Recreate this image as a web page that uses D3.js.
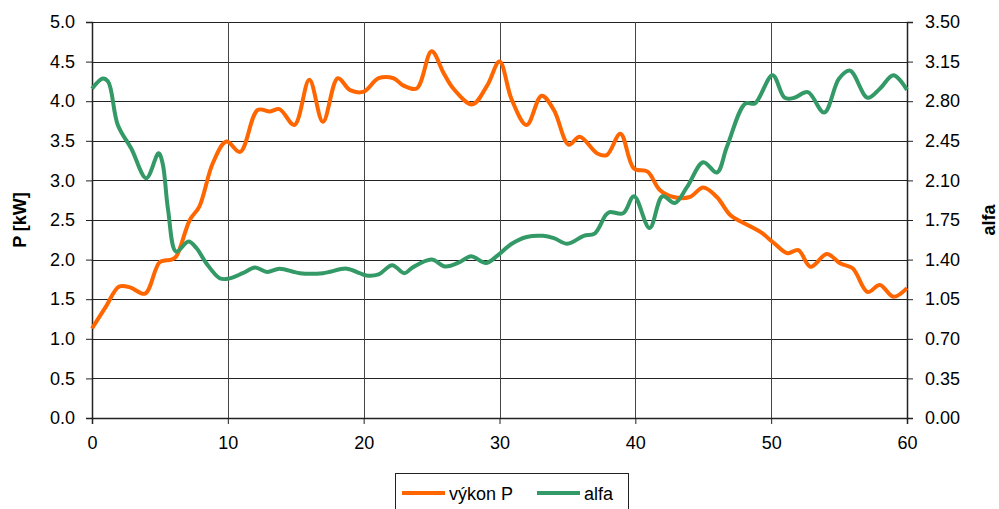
<!DOCTYPE html>
<html>
<head>
<meta charset="utf-8">
<script src="https://cdn.jsdelivr.net/npm/d3@7"></script>
<style>
  body { margin: 0; background: #fff; }
  text { font-family: "Liberation Sans", Arial, sans-serif; }
</style>
</head>
<body>
<div id="chart"></div>
<script>
'use strict';

// Data
var pTime = [0, 1, 2, 2.8, 3.9, 5, 5.85, 6.2, 7.2, 7.9, 8.9, 9.9, 10.9, 12.2, 13.1, 13.8, 14.9, 16, 17, 18.1, 19, 20, 21.1, 22.2, 22.9, 23.9, 25, 25.9, 26.6, 28, 29.1, 30, 30.9, 32, 33.1, 34, 35.1, 35.9, 37.2, 37.9, 38.9, 39.9, 40.9, 41.8, 42.8, 44, 45, 46, 47, 48, 49.2, 50.2, 51.2, 52, 52.9, 54.1, 55.1, 56, 57.1, 58, 59, 60];
var pValues = [1.13, 1.4, 1.66, 1.65, 1.57, 1.97, 2.0, 2.04, 2.5, 2.67, 3.22, 3.49, 3.36, 3.89, 3.87, 3.9, 3.7, 4.27, 3.74, 4.29, 4.14, 4.12, 4.29, 4.29, 4.2, 4.16, 4.63, 4.35, 4.16, 3.96, 4.2, 4.5, 4.02, 3.7, 4.07, 3.89, 3.45, 3.55, 3.34, 3.32, 3.59, 3.15, 3.11, 2.88, 2.79, 2.79, 2.91, 2.79, 2.56, 2.46, 2.35, 2.21, 2.08, 2.12, 1.91, 2.07, 1.95, 1.89, 1.59, 1.68, 1.53, 1.64];

var alfaTime = [0, 0.8, 1.2, 1.9, 2.9, 4, 4.9, 5.2, 5.6, 6.2, 7.1, 7.7, 8.4, 9.4, 10, 11.1, 12, 12.9, 13.8, 15.3, 17, 18.75, 19.7, 20.2, 21.1, 22.1, 23, 23.6, 25, 26, 27.1, 27.9, 29, 29.8, 30.9, 32, 33.2, 34, 35, 36.2, 37, 37.8, 38.1, 39.1, 39.9, 41.05, 42, 42.9, 43.8, 45, 46, 46.75, 48.1, 48.8, 50.1, 51, 51.7, 52.7, 53.9, 55, 55.8, 57.1, 58, 59, 60];
var alfaValues = [2.91, 3.0, 2.97, 2.59, 2.38, 2.12, 2.34, 2.25, 1.84, 1.47, 1.56, 1.5, 1.37, 1.235, 1.23, 1.28, 1.33, 1.29, 1.32, 1.28, 1.28, 1.32, 1.28, 1.26, 1.27, 1.35, 1.28, 1.33, 1.4, 1.34, 1.38, 1.43, 1.37, 1.43, 1.54, 1.6, 1.61, 1.59, 1.54, 1.61, 1.63, 1.79, 1.82, 1.81, 1.96, 1.68, 1.96, 1.9, 2.04, 2.26, 2.17, 2.4, 2.78, 2.78, 3.03, 2.83, 2.83, 2.88, 2.7, 3.0, 3.07, 2.83, 2.91, 3.03, 2.9];

var xTicks = [0, 10, 20, 30, 40, 50, 60];
var leftTicks = [0, 0.5, 1, 1.5, 2, 2.5, 3, 3.5, 4, 4.5, 5];
var rightTicks = [0, 0.35, 0.7, 1.05, 1.4, 1.75, 2.1, 2.45, 2.8, 3.15, 3.5];

var seriesNames = ['výkon P', 'alfa'];
var seriesColors = ['#ff6600', '#339966'];

// Layout
var width = 999, height = 509;
var margin = {top: 22, right: 92, bottom: 91, left: 92};
var plotW = width - margin.left - margin.right;
var plotH = height - margin.top - margin.bottom;

var x = d3.scaleLinear().domain([0, 60]).range([0, plotW]);
var yLeft = d3.scaleLinear().domain([0, 5]).range([plotH, 0]);
var yRight = d3.scaleLinear().domain([0, 3.5]).range([plotH, 0]);

var svg = d3.select('#chart').append('svg')
  .attr('width', width)
  .attr('height', height);

var g = svg.append('g')
  .attr('transform', 'translate(' + margin.left + ',' + margin.top + ')');

// Grid
g.append('g').selectAll('line')
  .data(leftTicks)
  .enter().append('line')
  .attr('x1', 0).attr('x2', plotW)
  .attr('y1', function(d) { return Math.round(yLeft(d)) + 0.5; })
  .attr('y2', function(d) { return Math.round(yLeft(d)) + 0.5; })
  .attr('stroke', '#222')
  .attr('stroke-width', 1);

g.append('g').selectAll('line')
  .data(xTicks)
  .enter().append('line')
  .attr('x1', function(d) { return Math.round(x(d)) + 0.5; })
  .attr('x2', function(d) { return Math.round(x(d)) + 0.5; })
  .attr('y1', 0).attr('y2', plotH)
  .attr('stroke', '#444')
  .attr('stroke-width', 1);

// Axes
var xAxis = d3.axisBottom(x).tickValues(xTicks).tickSize(6).tickPadding(12)
  .tickFormat(d3.format('d'));
var leftAxis = d3.axisLeft(yLeft).tickValues(leftTicks).tickSize(6).tickPadding(11)
  .tickFormat(d3.format('.1f'));
var rightAxis = d3.axisRight(yRight).tickValues(rightTicks).tickSize(6).tickPadding(12)
  .tickFormat(d3.format('.2f'));

function styleAxis(sel) {
  sel.selectAll('.domain').attr('stroke', '#222').attr('stroke-width', 1.5);
  sel.selectAll('.tick line').attr('stroke', '#222');
  sel.selectAll('.tick text')
    .attr('fill', '#000')
    .style('font-size', '18px')
    .style('font-family', '"Liberation Sans", Arial, sans-serif');
}

g.append('g')
  .attr('transform', 'translate(0,' + plotH + ')')
  .call(xAxis)
  .call(styleAxis);

g.append('g')
  .call(leftAxis)
  .call(styleAxis);

g.append('g')
  .attr('transform', 'translate(' + plotW + ',0)')
  .call(rightAxis)
  .call(styleAxis);

// Lines
var pLine = d3.line()
  .x(function(d, i) { return x(pTime[i]); })
  .y(function(d) { return yLeft(d); })
  .curve(d3.curveCatmullRom.alpha(0.5));

var alfaLine = d3.line()
  .x(function(d, i) { return x(alfaTime[i]); })
  .y(function(d) { return yRight(d); })
  .curve(d3.curveCatmullRom.alpha(0.5));

g.append('path')
  .attr('d', pLine(pValues))
  .attr('fill', 'none')
  .attr('stroke', seriesColors[0])
  .attr('stroke-width', 4)
  .attr('stroke-linejoin', 'round');

g.append('path')
  .attr('d', alfaLine(alfaValues))
  .attr('fill', 'none')
  .attr('stroke', seriesColors[1])
  .attr('stroke-width', 4)
  .attr('stroke-linejoin', 'round');

// Axis titles
svg.append('text')
  .attr('transform', 'translate(26,' + (margin.top + plotH / 2) + ') rotate(-90)')
  .attr('text-anchor', 'middle')
  .style('font-size', '18px')
  .style('font-weight', 'bold')
  .text('P [kW]');

svg.append('text')
  .attr('transform', 'translate(995,' + (margin.top + plotH / 2) + ') rotate(-90)')
  .attr('text-anchor', 'middle')
  .style('font-size', '18px')
  .style('font-weight', 'bold')
  .text('alfa');

// Legend
var legend = svg.append('g').attr('transform', 'translate(395,473)');
legend.append('rect')
  .attr('x', 0.5).attr('y', 0.5)
  .attr('width', 233).attr('height', 40)
  .attr('fill', '#fff')
  .attr('stroke', '#222');

var legendX = [7, 142];
seriesNames.forEach(function(name, i) {
  var item = legend.append('g').attr('transform', 'translate(' + legendX[i] + ',20)');
  item.append('line')
    .attr('x1', 0).attr('x2', 43)
    .attr('y1', 0).attr('y2', 0)
    .attr('stroke', seriesColors[i])
    .attr('stroke-width', 4);
  item.append('text')
    .attr('x', 47).attr('y', 7)
    .style('font-size', '18px')
    .text(name);
});
</script>
</body>
</html>
